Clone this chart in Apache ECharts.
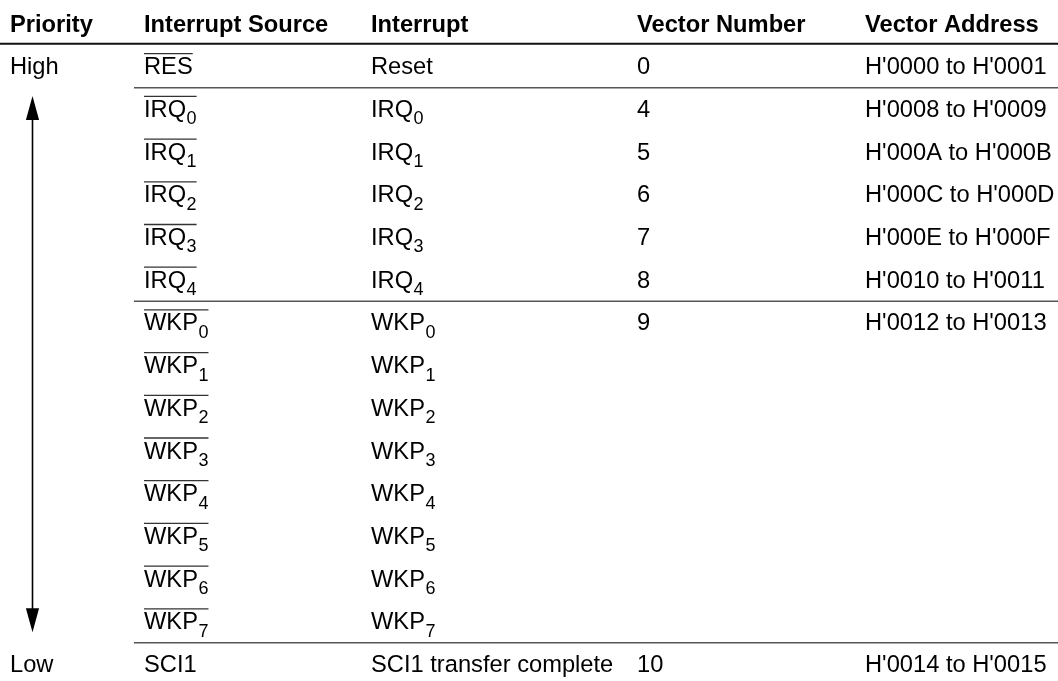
<!DOCTYPE html>
<html><head><meta charset="utf-8">
<script src="https://cdn.jsdelivr.net/npm/echarts@6/dist/echarts.min.js"></script>
<style>html,body{margin:0;padding:0;background:#fff}#c{width:1058px;height:681px}</style>
</head><body><div id="c"></div>
<script>
// ---- data ----
const headers = ['Priority', 'Interrupt Source', 'Interrupt', 'Vector Number', 'Vector Address'];
const priorities = ['High', '', '', '', '', '', '', '', '', '', '', '', '', '', 'Low'];
const sourceBase = ['RES', 'IRQ', 'IRQ', 'IRQ', 'IRQ', 'IRQ', 'WKP', 'WKP', 'WKP', 'WKP', 'WKP', 'WKP', 'WKP', 'WKP', 'SCI1'];
const sourceSub = ['', '0', '1', '2', '3', '4', '0', '1', '2', '3', '4', '5', '6', '7', ''];
const sourceActiveLow = [true, true, true, true, true, true, true, true, true, true, true, true, true, true, false];
const interruptBase = ['Reset', 'IRQ', 'IRQ', 'IRQ', 'IRQ', 'IRQ', 'WKP', 'WKP', 'WKP', 'WKP', 'WKP', 'WKP', 'WKP', 'WKP', 'SCI1 transfer complete'];
const interruptSub = ['', '0', '1', '2', '3', '4', '0', '1', '2', '3', '4', '5', '6', '7', ''];
const vectorNumbers = ['0', '4', '5', '6', '7', '8', '9', '', '', '', '', '', '', '', '10'];
const vectorAddresses = ["H'0000 to H'0001", "H'0008 to H'0009", "H'000A to H'000B", "H'000C to H'000D", "H'000E to H'000F", "H'0010 to H'0011", "H'0012 to H'0013", '', '', '', '', '', '', '', "H'0014 to H'0015"];
const groupEndRows = [0, 5, 13]; // a rule is drawn below these data rows

// ---- layout / style ----
const W = 1058;
const COL_X = [10, 144, 371, 637, 865];
const RULE_X0 = 134;
const FONT = '"Liberation Sans", Arial, Helvetica, sans-serif';
const MAIN_SIZE = 23.7, SUB_SIZE = 18;
const SUB_DY = 9;
const RULE_OFFSET = 0.47;
const ARROW = { x: 32.5, top: 1.66, bottom: 14.22, head: 24, halfW: 6.6 };

const mctx = document.createElement('canvas').getContext('2d');
function measure(t, font) { mctx.font = font; return mctx.measureText(t).width; }

// build cells
const cells = [];
headers.forEach((h, i) => cells.push({ x: COL_X[i], row: 0, text: h, sub: '', over: false, bold: true }));
priorities.forEach((v, r) => {
  const row = r + 1;
  if (v) cells.push({ x: COL_X[0], row, text: v, sub: '', over: false });
  cells.push({ x: COL_X[1], row, text: sourceBase[r], sub: sourceSub[r], over: sourceActiveLow[r] });
  cells.push({ x: COL_X[2], row, text: interruptBase[r], sub: interruptSub[r], over: false });
  if (vectorNumbers[r]) cells.push({ x: COL_X[3], row, text: vectorNumbers[r], sub: '', over: false });
  if (vectorAddresses[r]) cells.push({ x: COL_X[4], row, text: vectorAddresses[r], sub: '', over: false });
});

const rules = [{ x0: 0, x1: W, y: RULE_OFFSET - 0.03, width: 2, color: '#111' }];
groupEndRows.forEach(r => rules.push({ x0: RULE_X0, x1: W, y: r + 1 + RULE_OFFSET, width: 1.5, color: '#555' }));

function renderCell(params, api) {
  const c = cells[params.dataIndex];
  const p = api.coord([c.x, c.row]);
  const mainFont = (c.bold ? 'bold ' : '') + MAIN_SIZE + 'px ' + FONT;
  const subFont = SUB_SIZE + 'px ' + FONT;
  const children = [{
    type: 'text', x: p[0], y: p[1],
    style: { text: c.text, font: mainFont, fill: '#000', align: 'left', verticalAlign: 'middle' }
  }];
  let w = measure(c.text, mainFont);
  if (c.sub) {
    children.push({
      type: 'text', x: p[0] + w + 0.5, y: p[1] + SUB_DY,
      style: { text: c.sub, font: subFont, fill: '#000', align: 'left', verticalAlign: 'middle' }
    });
    w += measure(c.sub, subFont) + 0.5;
  }
  if (c.over) {
    children.push({
      type: 'line', shape: { x1: p[0], y1: p[1] - 14, x2: p[0] + w, y2: p[1] - 14 },
      style: { stroke: '#333', lineWidth: 1.3 }
    });
  }
  return { type: 'group', children };
}

function renderRule(params, api) {
  const r = rules[params.dataIndex];
  const a = api.coord([r.x0, r.y]), b = api.coord([r.x1, r.y]);
  return { type: 'line', shape: { x1: a[0], y1: a[1], x2: b[0], y2: b[1] }, style: { stroke: r.color, lineWidth: r.width } };
}

function renderArrow(params, api) {
  const t = api.coord([ARROW.x, ARROW.top]), b = api.coord([ARROW.x, ARROW.bottom]);
  const x = t[0];
  return {
    type: 'group', children: [
      { type: 'line', shape: { x1: x, y1: t[1] + ARROW.head - 2, x2: x, y2: b[1] - ARROW.head + 2 }, style: { stroke: '#000', lineWidth: 1.6 } },
      { type: 'polygon', shape: { points: [[x, t[1]], [x - ARROW.halfW, t[1] + ARROW.head], [x + ARROW.halfW, t[1] + ARROW.head]] }, style: { fill: '#000' } },
      { type: 'polygon', shape: { points: [[x, b[1]], [x - ARROW.halfW, b[1] - ARROW.head], [x + ARROW.halfW, b[1] - ARROW.head]] }, style: { fill: '#000' } }
    ]
  };
}

const chart = echarts.init(document.getElementById('c'), null, { renderer: 'canvas' });
chart.setOption({
  animation: false,
  backgroundColor: '#fff',
  grid: { left: 0, right: 0, top: 25, bottom: 15.5 },
  xAxis: { type: 'value', min: 0, max: W, show: false },
  yAxis: { type: 'value', min: 0, max: 15, inverse: true, show: false },
  series: [
    { type: 'custom', name: 'rules', renderItem: renderRule, data: rules.map(r => [r.x0, r.y]), clip: false, silent: true },
    { type: 'custom', name: 'arrow', renderItem: renderArrow, data: [[ARROW.x, ARROW.top]], clip: false, silent: true },
    { type: 'custom', name: 'cells', renderItem: renderCell, data: cells.map(c => [c.x, c.row]), clip: false, silent: true }
  ]
});
</script></body></html>
